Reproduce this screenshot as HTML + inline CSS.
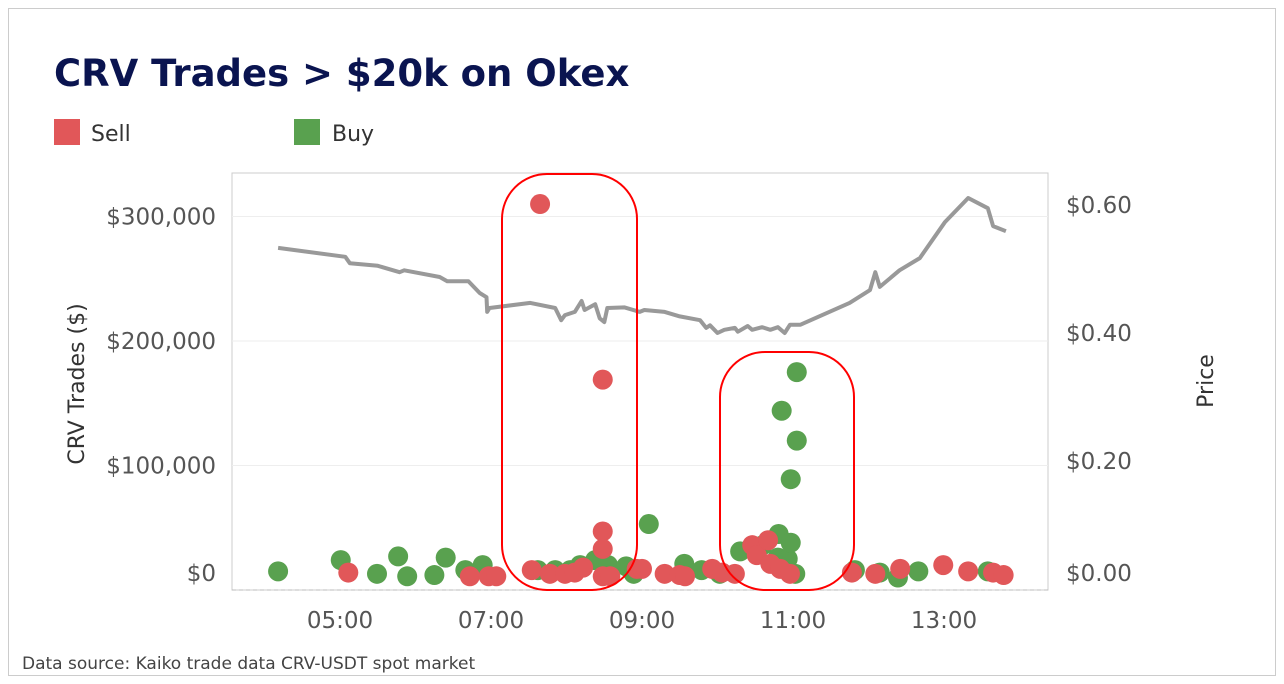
<!DOCTYPE html>
<html><head><meta charset="utf-8"><style>
body{margin:0;background:#fff;font-family:"DejaVu Sans",sans-serif}
svg{display:block}
</style></head><body>
<svg width="1284" height="684" xmlns="http://www.w3.org/2000/svg" id="chart" font-family="DejaVu Sans, sans-serif">
<rect x="8.5" y="8.5" width="1267" height="667" fill="#fff" stroke="#ccc"/>
<text x="54" y="86" font-size="37" font-weight="bold" fill="#0a1450">CRV Trades &gt; $20k on Okex</text>
<rect x="54" y="119" width="26" height="26" fill="#e15759"/>
<text x="91" y="141" font-size="22" fill="#333">Sell</text>
<rect x="294" y="119" width="26" height="26" fill="#59a14f"/>
<text x="332" y="141" font-size="22" fill="#333">Buy</text>
<rect x="232" y="173" width="816" height="417" fill="none" stroke="#ccc"/>
<line x1="232" y1="590" x2="1048" y2="590" stroke="#bbb" stroke-dasharray="4,3"/>
<g id="grid"></g><g id="axes"></g><g id="price"></g><g id="dots"></g>
<rect x="502" y="174" width="135" height="416" rx="45" fill="none" stroke="#f00" stroke-width="2"/>
<rect x="720" y="352" width="134" height="238" rx="45" fill="none" stroke="#f00" stroke-width="2"/>
<text transform="translate(84,384) rotate(-90)" text-anchor="middle" font-size="22" fill="#333">CRV Trades ($)</text>
<text transform="translate(1213,381) rotate(-90)" text-anchor="middle" font-size="22" fill="#333">Price</text>
<text x="22" y="669" font-size="17" fill="#444">Data source: Kaiko trade data CRV-USDT spot market</text>
</svg>
<script>
const xTicks=[5,7,9,11,13];
const xTickLabels=["05:00","07:00","09:00","11:00","13:00"];
const yTicks=[0,100,200,300];
const yTickLabels=["$0","$100,000","$200,000","$300,000"];
const y2Ticks=[0,0.2,0.4,0.6];
const y2TickLabels=["$0.00","$0.20","$0.40","$0.60"];
const priceTimes=[4.18,5.07,5.13,5.5,5.79,5.85,6.32,6.42,6.7,6.85,6.94,6.95,6.98,7.52,7.85,7.93,7.98,8.11,8.2,8.24,8.38,8.44,8.5,8.54,8.77,8.97,9.03,9.3,9.5,9.77,9.85,9.9,10.0,10.09,10.23,10.27,10.4,10.46,10.59,10.7,10.8,10.89,10.96,11.1,11.75,12.02,12.09,12.15,12.41,12.68,13.01,13.32,13.58,13.65,13.82];
const priceValues=[0.533,0.519,0.509,0.505,0.495,0.498,0.4875,0.481,0.481,0.4625,0.456,0.433,0.439,0.447,0.439,0.42,0.428,0.433,0.45,0.436,0.445,0.423,0.417,0.439,0.44,0.433,0.436,0.433,0.426,0.42,0.408,0.412,0.4,0.405,0.408,0.402,0.411,0.405,0.409,0.405,0.409,0.4,0.413,0.413,0.447,0.467,0.495,0.472,0.498,0.517,0.573,0.611,0.595,0.567,0.559];
const sellTimes=[5.11,6.72,6.97,7.07,7.54,7.65,7.78,7.98,8.11,8.22,8.48,8.48,8.48,8.48,8.58,8.93,9.0,9.3,9.5,9.57,9.93,10.06,10.23,10.46,10.52,10.67,10.7,10.83,10.96,11.78,12.09,12.42,12.99,13.32,13.65,13.79];
const sellValues=[14,11,11,11,16,310,13,13,14,18,169,47,33,11,11,17,17,13,12,11,17,14,13,36,28,40,21,17,13,14,13,17,20,15,14,12];
const buyTimes=[4.18,5.01,5.49,5.77,5.89,6.25,6.4,6.66,6.89,7.62,7.85,8.05,8.18,8.38,8.55,8.79,8.89,9.09,9.56,9.79,10.03,10.3,10.6,10.8,10.81,10.85,10.93,10.97,10.97,11.03,11.05,11.05,11.82,12.15,12.39,12.66,13.58];
const buyValues=[15,24,13,27,11,12,26,16,20,16,16,16,20,24,20,19,13,53,21,16,13,31,36,26,45,144,25,89,38,13,175,120,16,14,10,15,15];
const X=h=>340+(h-5)*75.5, Y=v=>590-v*1.245, Y2=p=>589-p*640;
const NS="http://www.w3.org/2000/svg";
function mk(tag,attrs,parent,txt){const e=document.createElementNS(NS,tag);for(const k in attrs)e.setAttribute(k,attrs[k]);if(txt!==undefined)e.textContent=txt;document.getElementById(parent).appendChild(e);return e;}
yTicks.forEach((v,i)=>{
 if(v>0){const g=mk('line',{x1:232,x2:1048,y1:Y(v),y2:Y(v),stroke:'#eee'},'grid');
 
 }
 const t=mk('text',{x:216,y:(v===0?573:Y(v))+8,'text-anchor':'end','font-size':23,fill:'#555'},'axes',yTickLabels[i]);
 
 
});
y2Ticks.forEach((v,i)=>{
 const t=mk('text',{x:1066,y:(v===0?573:Y2(v))+8,'font-size':23,fill:'#555'},'axes',y2TickLabels[i]);
 
 
});
xTicks.forEach((h,i)=>{
 const t=mk('text',{x:X(h),y:628,'text-anchor':'middle','font-size':23,fill:'#555'},'axes',xTickLabels[i]);
 
 
});
const pts=priceTimes.map((t,i)=>X(t).toFixed(1)+','+Y2(priceValues[i]).toFixed(1)).join(' ');
const pl=mk('polyline',{points:pts,fill:'none',stroke:'#999',"stroke-width":4,"stroke-linejoin":'round'},'price');


buyTimes.forEach((t,i)=>{
 const c=mk('circle',{cx:X(t),cy:Y(buyValues[i]),r:10,fill:'#59a14f'},'dots');
 
 
});
sellTimes.forEach((t,i)=>{
 const c=mk('circle',{cx:X(t),cy:Y(sellValues[i]),r:10,fill:'#e15759'},'dots');
 
 
});
</script>
</body></html>
